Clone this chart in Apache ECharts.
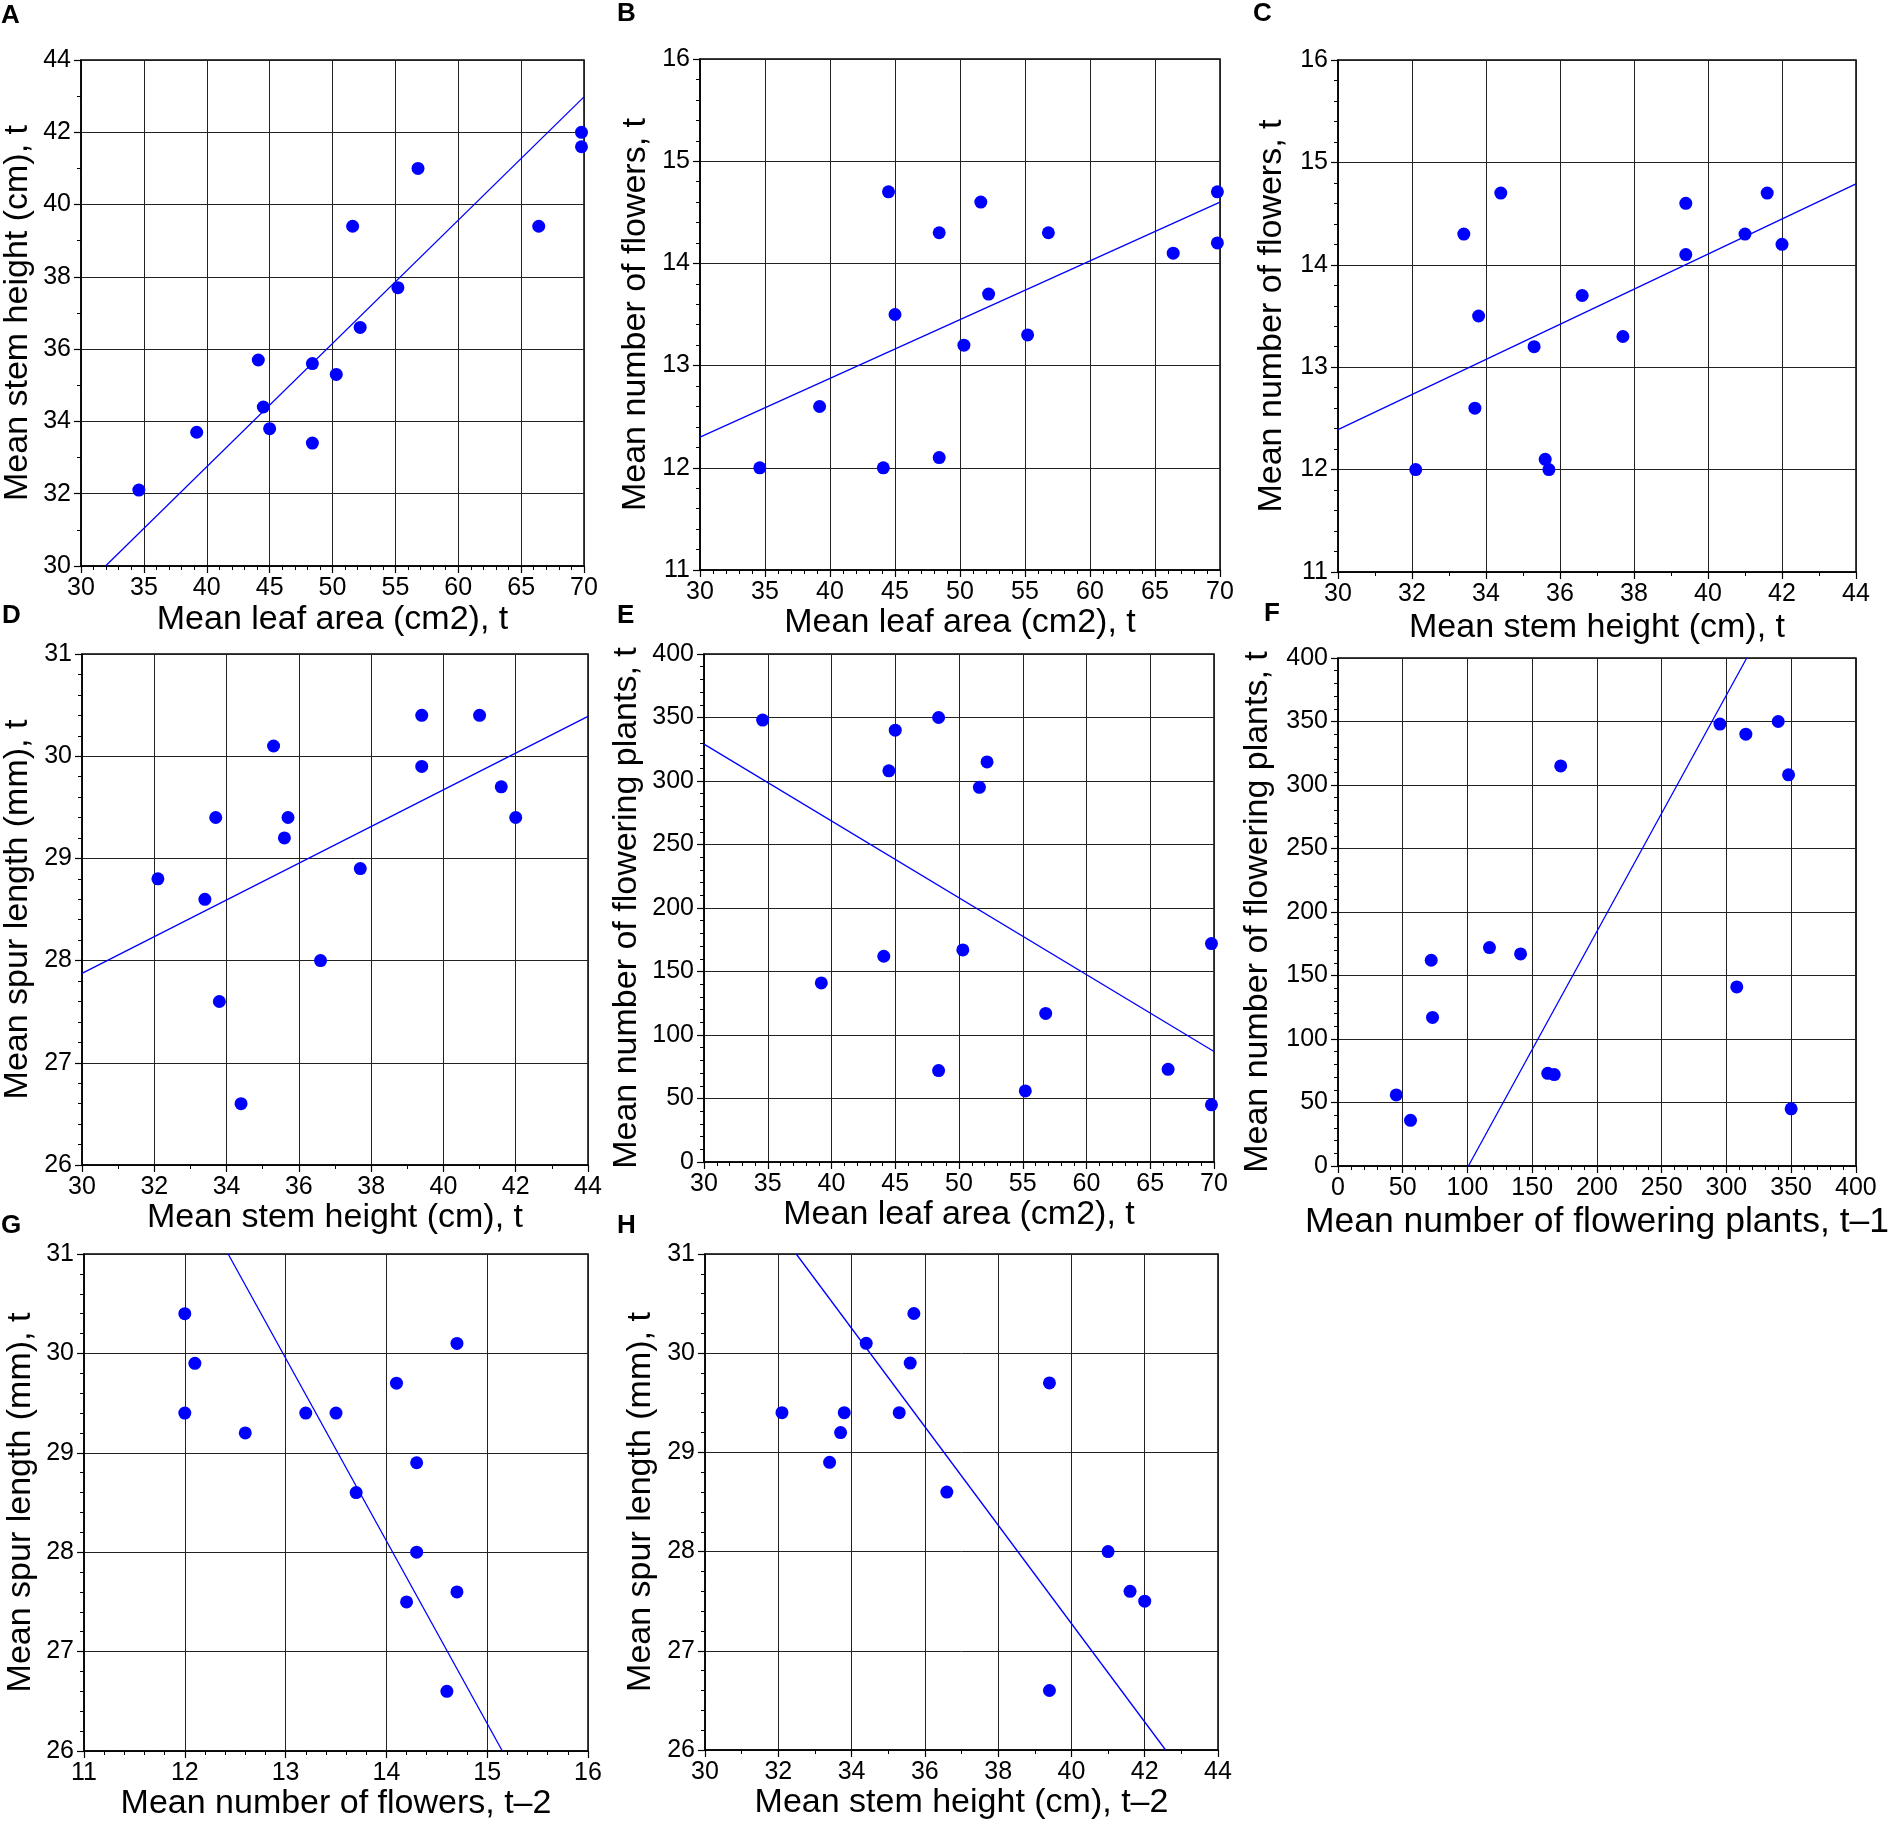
<!DOCTYPE html>
<html>
<head>
<meta charset="utf-8">
<title>Trait correlations, panels A-H</title>
<script src="https://cdn.jsdelivr.net/npm/echarts@6/dist/echarts.min.js"></script>
<style>
  html, body { margin: 0; padding: 0; background: #fff; }
  #chart { width: 1891px; height: 1822px; }
</style>
</head>
<body>
<div id="chart"></div>
<script>
// values, one year per position (t)
const leafArea   = [34.6, 39.2, 44.1, 44.5, 45.0, 48.4, 48.4, 50.3, 51.6, 52.2, 55.2, 56.8, 66.4, 69.8, 69.8];
const stemHeight = [32.1, 33.7, 35.7, 34.4, 33.8, 35.6, 33.4, 35.3, 39.4, 36.6, 37.7, 41.0, 39.4, 42.0, 41.6];
const flowers    = [12.0, 12.6, 12.0, 14.7, 13.5, 12.1, 14.3, 13.2, 14.6, 13.7, 13.3, 14.3, 14.1, 14.2, 14.7];
const spurLength = [28.8, 29.4, 29.4, 26.6, 27.6, 29.2, 28.6, 30.1, 30.4, 28.0, 28.9, 30.4, 29.9, 29.4, 29.7];
const plants     = [348, 141, 162, 308, 340, 350, 72, 167, 295, 315, 56, 117, 73, 172, 45];

// F: flowering plants t-1 vs t
const plantsLag1 = [45, 56, 72, 73, 117, 141, 162, 167, 172, 295, 308, 315, 340, 348, 350];
const plantsF    = [56, 36, 162, 117, 172, 167, 73, 72, 315, 348, 141, 340, 350, 308, 45];

// G: flowers t-2 vs spur t
const flowersLag2 = [12.0, 12.1, 12.0, 12.6, 13.2, 13.5, 13.7, 14.1, 14.3, 14.3, 14.2, 14.7, 14.7, 14.6];
const spurG       = [30.4, 29.9, 29.4, 29.2, 29.4, 29.4, 28.6, 29.7, 28.9, 28.0, 27.5, 30.1, 27.6, 26.6];

// H: stem height t-2 vs spur t
const stemLag2 = [32.1, 33.4, 33.7, 33.8, 34.4, 35.3, 35.6, 35.7, 36.6, 39.4, 39.4, 41.0, 41.6, 42.0];
const spurH    = [29.4, 28.9, 29.2, 29.4, 30.1, 29.4, 29.9, 30.4, 28.6, 29.7, 26.6, 28.0, 27.6, 27.5];

// fitted lines, end points as drawn
const fitA = [[31.95, 30], [70, 42.98]];
const fitB = [[30, 12.30], [70, 14.60]];
const fitC = [[30, 12.39], [44, 14.79]];
const fitD = [[30, 27.875], [44, 30.39]];
const fitE = [[30, 329], [70, 87]];
const fitF = [[100.7, 0], [315.7, 400]];
const fitG = [[12.43, 31], [15.15, 26]];
const fitH = [[32.49, 31], [42.57, 26]];

// axis ranges: [min, max, interval, minor splits]
const leafRange   = [30, 70, 5, 5];
const stemRange   = [30, 44, 2, 2];
const flowerRange = [11, 16, 1, 5];
const spurRange   = [26, 31, 1, 5];
const plantRange  = [0, 400, 50, 5];

const FONT = '"Liberation Sans", Arial, Helvetica, sans-serif';

function zip(xs, ys) {
    return xs.map((x, i) => [x, ys[i]]);
}

const panels = [
    { id: 'A', rect: [80, 60, 504, 506], x: leafRange, y: stemRange,
      xName: 'Mean leaf area (cm2), t', yName: 'Mean stem height (cm), t',
      xGap: 37, yGap: 46, pts: zip(leafArea, stemHeight), fit: fitA, tag: [1, 3] },
    { id: 'B', rect: [700, 59, 520, 511], x: leafRange, y: flowerRange,
      xName: 'Mean leaf area (cm2), t', yName: 'Mean number of flowers, t',
      xGap: 36, yGap: 47, pts: zip(leafArea, flowers), fit: fitB, tag: [617, 1] },
    { id: 'C', rect: [1338, 60, 518, 512], x: stemRange, y: flowerRange,
      xName: 'Mean stem height (cm), t', yName: 'Mean number of flowers, t',
      xGap: 39, yGap: 49, pts: zip(stemHeight, flowers), fit: fitC, tag: [1253, 1] },
    { id: 'D', rect: [81, 654, 507, 511], x: stemRange, y: spurRange,
      xName: 'Mean stem height (cm), t', yName: 'Mean spur length (mm), t',
      xGap: 36, yGap: 47, pts: zip(stemHeight, spurLength), fit: fitD, tag: [2, 603] },
    { id: 'E', rect: [704, 654, 510, 508], x: leafRange, y: plantRange,
      xName: 'Mean leaf area (cm2), t', yName: 'Mean number of flowering plants, t',
      xGap: 35, yGap: 60, pts: zip(leafArea, plants), fit: fitE, tag: [617, 603] },
    { id: 'F', rect: [1338, 658, 520, 508], x: plantRange, y: plantRange,
      xName: 'Mean number of flowering plants, t\u20131', yName: 'Mean number of flowering plants, t',
      xGap: 38, yGap: 63, xSize: 35.5, pts: zip(plantsLag1, plantsF), fit: fitF, tag: [1264, 601] },
    { id: 'G', rect: [84, 1254, 504, 497], x: flowerRange, y: spurRange,
      xName: 'Mean number of flowers, t\u20132', yName: 'Mean spur length (mm), t',
      xGap: 35, yGap: 46, pts: zip(flowersLag2, spurG), fit: fitG, tag: [1, 1213] },
    { id: 'H', rect: [705, 1254, 513, 496], x: stemRange, y: spurRange,
      xName: 'Mean stem height (cm), t\u20132', yName: 'Mean spur length (mm), t',
      xGap: 36, yGap: 47, pts: zip(stemLag2, spurH), fit: fitH, tag: [617, 1213] }
];

function axis(range, idx, name, gap, nameSize) {
    return {
        type: 'value',
        gridIndex: idx,
        min: range[0],
        max: range[1],
        interval: range[2],
        name: name,
        nameLocation: 'middle',
        nameGap: gap,
        nameTextStyle: { fontFamily: FONT, fontSize: nameSize || 34, color: '#000' },
        axisLine: { show: true, onZero: false, lineStyle: { color: '#000', width: 1.5 } },
        axisTick: { show: true, inside: false, length: 7, lineStyle: { color: '#000', width: 1.2 } },
        minorTick: { show: true, splitNumber: range[3], length: 4, lineStyle: { color: '#000', width: 1 } },
        axisLabel: { show: true, margin: 10, fontFamily: FONT, fontSize: 25, color: '#000',
                     showMinLabel: true, showMaxLabel: true, hideOverlap: false },
        splitLine: { show: true, lineStyle: { color: '#222', width: 1 } },
        minorSplitLine: { show: false },
        splitArea: { show: false }
    };
}

const grids = [], xAxes = [], yAxes = [], series = [], letters = [];

panels.forEach((p, i) => {
    grids.push({
        left: p.rect[0], top: p.rect[1], width: p.rect[2], height: p.rect[3],
        containLabel: false, show: true, borderColor: '#000', borderWidth: 1.5,
        backgroundColor: 'transparent'
    });
    xAxes.push(axis(p.x, i, p.xName, p.xGap, p.xSize));
    yAxes.push(axis(p.y, i, p.yName, p.yGap));

    // regression line
    series.push({
        type: 'line', xAxisIndex: i, yAxisIndex: i,
        data: p.fit, showSymbol: false, symbol: 'none', silent: true,
        lineStyle: { color: '#0000ff', width: 1.3 }, z: 2
    });
    // points
    series.push({
        type: 'scatter', xAxisIndex: i, yAxisIndex: i,
        data: p.pts, symbol: 'circle', symbolSize: 13, silent: true,
        itemStyle: { color: '#0000ff', borderWidth: 0, opacity: 1 }, z: 3
    });

    // panel letter, placed by its top-left corner
    letters.push({
        type: 'text', x: p.tag[0], y: p.tag[1], z: 10,
        style: {
            text: p.id, x: 0, y: 0, align: 'left', verticalAlign: 'top',
            fontSize: 26, fontWeight: 'bold', fontFamily: 'Liberation Sans', fill: '#000'
        }
    });
});

const chart = echarts.init(document.getElementById('chart'), null, { renderer: 'canvas' });
chart.setOption({
    animation: false,
    backgroundColor: '#fff',
    grid: grids,
    xAxis: xAxes,
    yAxis: yAxes,
    series: series,
    graphic: { elements: letters }
});
</script>
</body>
</html>
